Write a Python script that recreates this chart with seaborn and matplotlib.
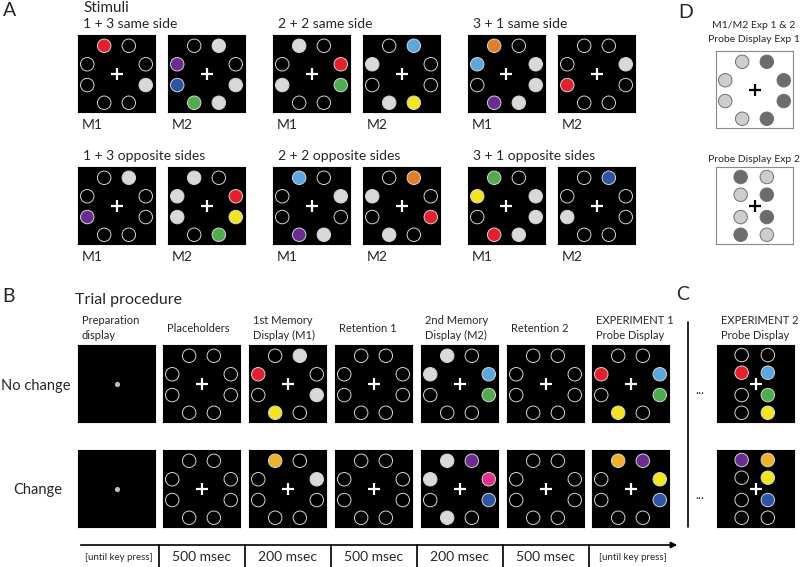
import numpy as np
import pandas as pd
import matplotlib
matplotlib.use("Agg")
import matplotlib.pyplot as plt
import seaborn as sns

# circle slots inside one display (unit square, y pointing down)
# ring order: top-left, top-right, right-upper, right-lower,
#             bottom-right, bottom-left, left-lower, left-upper
RING_X = [0.34, 0.66, 0.88, 0.88, 0.66, 0.34, 0.12, 0.12]
RING_Y = [0.14, 0.14, 0.38, 0.65, 0.88, 0.88, 0.65, 0.38]
# two-column probe (left column top->bottom, then right column)
COLS_X = [0.32, 0.32, 0.32, 0.32, 0.66, 0.66, 0.66, 0.66]
COLS_Y = [0.13, 0.36, 0.65, 0.88, 0.13, 0.36, 0.65, 0.88]

# colour codes, '.' = empty placeholder
PALETTE = {'.': 'black', 'w': '#d9d9d9', 'r': '#e3202c', 'p': '#6a2c8e',
           'b': '#2f54a5', 'g': '#4fad4d', 'c': '#5aa8df', 'y': '#f3e51f',
           'o': '#e57e2a', 'a': '#efb12a', 'm': '#e2318b',
           'l': '#cdcdcd', 'd': '#6c6c6c'}

STIM_TITLES = ['1 + 3 same side', '2 + 2 same side', '3 + 1 same side',
               '1 + 3 opposite sides', '2 + 2 opposite sides', '3 + 1 opposite sides']
STIM_M1 = ['r..w....', 'w.rg..w.', 'o.wwwp.c',
           '.w....p.', 'c.w.wp..', 'g.wwwr.y']
STIM_M2 = ['.w.wwgbp', '.c..yw.w', '..w...r.',
           'w.ryg.ww', '.o.r.w.w', '.b....w.']

TRIAL_HEADERS = ['Preparation\ndisplay', 'Placeholders', '1st Memory\nDisplay (M1)',
                 'Retention 1', '2nd Memory\nDisplay (M2)', 'Retention 2',
                 'EXPERIMENT 1\nProbe Display']
NO_CHANGE = [None, '........', '.w.w.y.r', '........', 'w.cg...w', '........', '..cg.y.r']
CHANGE = [None, '........', 'a.w.....', '........', 'wpmb.w.w', '........', 'apyb....']
EXP2_NO_CHANGE = '.r...cgy'
EXP2_CHANGE = 'p...ayb.'
DURATIONS = ['[until key press]', '500 msec', '200 msec', '500 msec',
             '200 msec', '500 msec', '[until key press]']

D_RING = 'lddddlll'
D_COLS = 'dlldlddl'

W, H = 800, 567
BOX = 77

sns.set_theme(style="white")
plt.rcParams['font.family'] = ['Lato', 'DejaVu Sans']

fig = plt.figure(figsize=(8, 5.67), dpi=100)
fig.patch.set_facecolor('white')
ov = fig.add_axes([0, 0, 1, 1])
ov.set_xlim(0, W)
ov.set_ylim(H, 0)
ov.axis('off')


def box_axes(x, y, bg='black', edge='black'):
    ax = fig.add_axes([x / W, 1 - (y + BOX) / H, BOX / W, BOX / H])
    ax.set_facecolor(bg)
    for s in ax.spines.values():
        s.set_color(edge)
        s.set_linewidth(0.8)
    return ax


def finish(ax):
    ax.set_xlim(0, 1)
    ax.set_ylim(1, 0)
    ax.set_xticks([])
    ax.set_yticks([])
    ax.set_xlabel('')
    ax.set_ylabel('')


def display(ax, codes, xs, ys, edge='#d4d4d4', cross='white'):
    df = pd.DataFrame({'x': xs, 'y': ys, 'c': list(codes)})
    sns.scatterplot(data=df, x='x', y='y', hue='c', palette=PALETTE, s=94,
                    edgecolor=edge, linewidth=0.7, legend=False, ax=ax)
    ax.scatter([0.5], [0.51], marker='+', s=75, c=cross, linewidths=1.6, zorder=5)
    finish(ax)


def prep(ax):
    ax.scatter([0.5], [0.51], s=14, c='#bdbdbd', linewidths=0)
    finish(ax)


# ---- panel A ----
ov.text(3, 11, 'A', fontsize=14, va='center')
ov.text(83, 8, 'Stimuli', fontsize=11, va='center')
group_x = [78, 273, 468]
row_y = [35, 167]
for i, title in enumerate(STIM_TITLES):
    gx = group_x[i % 3]
    gy = row_y[i // 3]
    ov.text(gx + 5, gy - 11, title, fontsize=10, va='center')
    for j, codes in enumerate([STIM_M1[i], STIM_M2[i]]):
        bx = gx + j * 90
        ax = box_axes(bx, gy)
        display(ax, codes, RING_X, RING_Y)
        ov.text(bx + 4, gy + BOX + 13, 'M%d' % (j + 1), fontsize=10, va='center')

# ---- panel D ----
ov.text(678, 12, 'D', fontsize=14, va='center')
ov.text(754, 25, 'M1/M2 Exp 1 & 2', fontsize=7.5, ha='center', va='center')
ov.text(754, 40, 'Probe Display Exp 1', fontsize=7.5, ha='center', va='center')
ov.text(754, 160, 'Probe Display Exp 2', fontsize=7.5, ha='center', va='center')
ax = box_axes(716, 51, bg='white', edge='#8a8a8a')
display(ax, D_RING, RING_X, RING_Y, edge='#707070', cross='black')
ax = box_axes(716, 167, bg='white', edge='#8a8a8a')
display(ax, D_COLS, COLS_X, COLS_Y, edge='#707070', cross='black')

# ---- panel B ----
ov.text(2, 296, 'B', fontsize=14, va='center')
ov.text(75, 300, 'Trial procedure', fontsize=11.5, va='center')
col_x = [78, 163, 249, 335, 421, 507, 592]
rows = [(345, NO_CHANGE, EXP2_NO_CHANGE), (450, CHANGE, EXP2_CHANGE)]
for k, header in enumerate(TRIAL_HEADERS):
    ov.text(col_x[k] + 4, 328, header, fontsize=8, va='center', linespacing=1.35)
for ry, seq, exp2 in rows:
    for k, codes in enumerate(seq):
        ax = box_axes(col_x[k], ry)
        if codes is None:
            prep(ax)
        else:
            display(ax, codes, RING_X, RING_Y)
    ax = box_axes(717, ry)
    display(ax, exp2, COLS_X, COLS_Y)
    ov.text(700, ry + 45, '...', fontsize=9, ha='center', va='center')
ov.text(1, 386, 'No change', fontsize=10.5, va='center')
ov.text(13, 490, 'Change', fontsize=10.5, va='center')

# ---- panel C ----
ov.text(676, 294, 'C', fontsize=14, va='center')
ov.text(721, 328, 'EXPERIMENT 2\nProbe Display', fontsize=8, va='center', linespacing=1.35)
ov.plot([688, 688], [322, 527], color='black', lw=1.2)

# ---- time line ----
ov.annotate('', xy=(680, 545), xytext=(78, 545),
            arrowprops=dict(arrowstyle='-|>', color='black', lw=1.2, mutation_scale=9))
edges = [78, 159, 245, 331, 417, 503, 589, 677]
for xv in edges[1:-1]:
    ov.plot([xv, xv], [545, 567], color='black', lw=1.2)
for k, lab in enumerate(DURATIONS):
    cx = (edges[k] + edges[k + 1]) / 2
    fs = 7 if lab.startswith('[') else 10
    ov.text(cx, 557, lab, fontsize=fs, ha='center', va='center')

fig.savefig('out.png', dpi=100)
